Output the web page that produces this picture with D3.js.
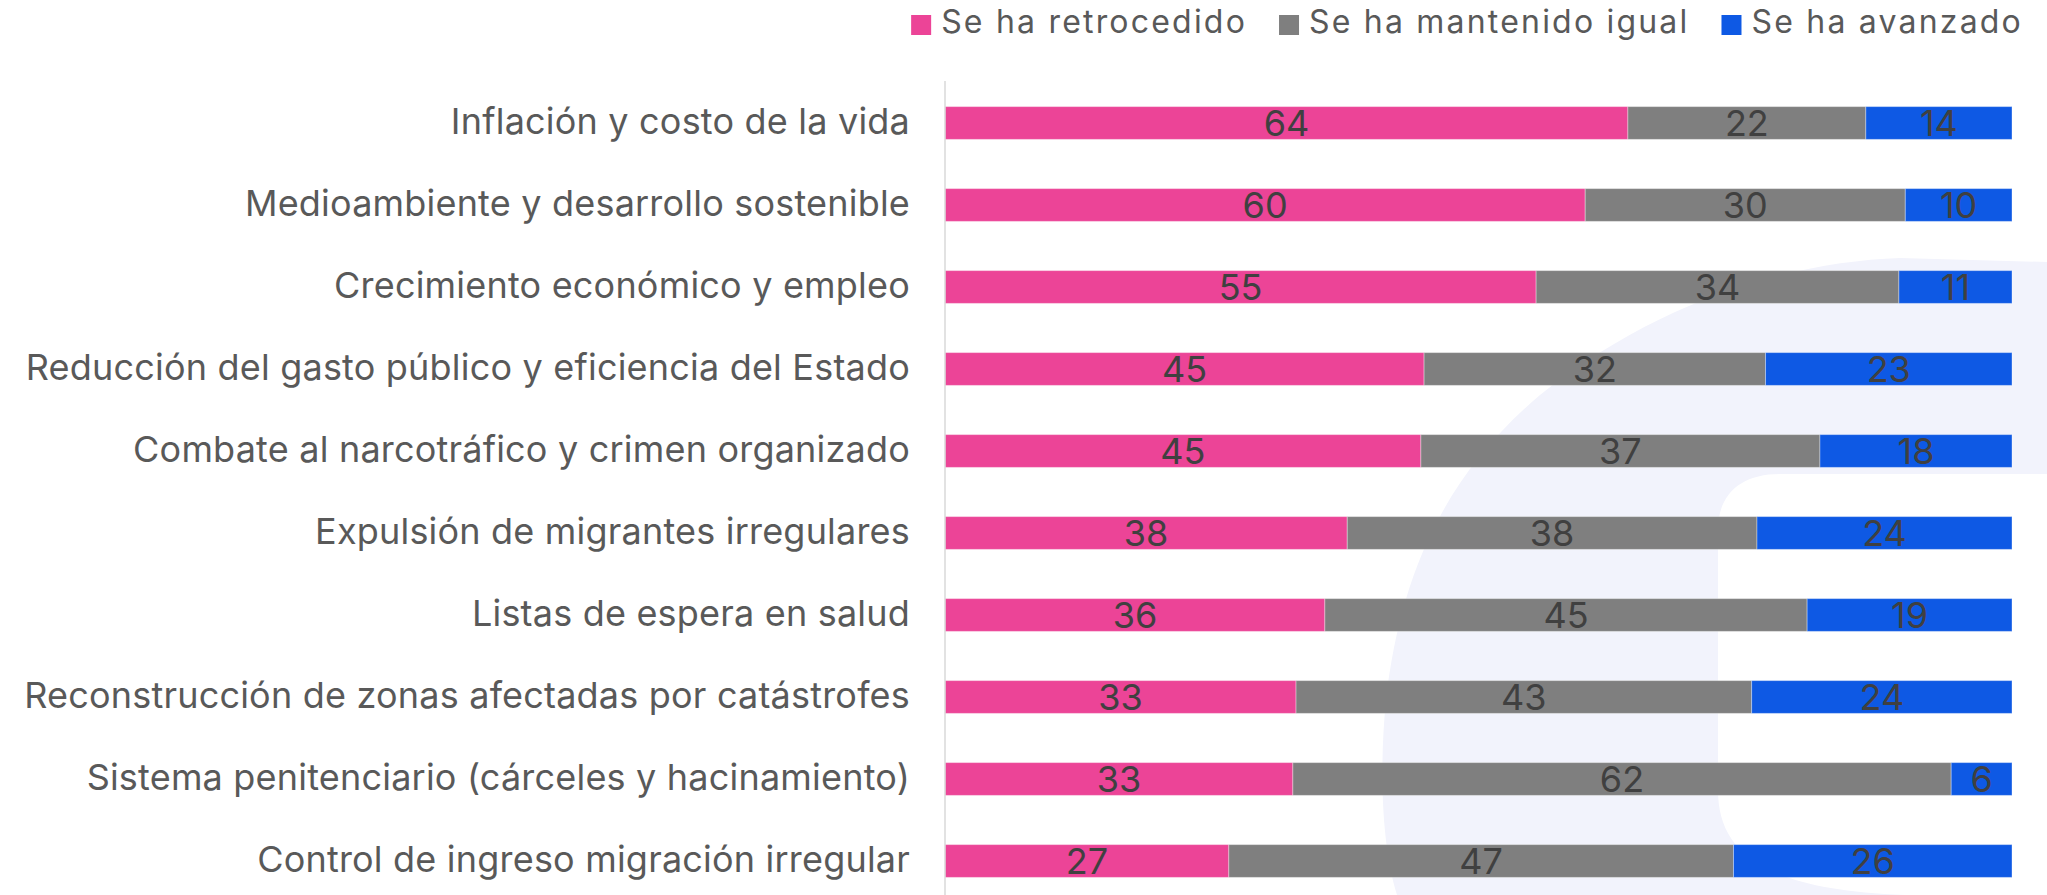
<!DOCTYPE html>
<html>
<head>
<meta charset="utf-8">
<script src="https://cdn.jsdelivr.net/npm/d3@7"></script>
<style>
  body { margin: 0; background: #fff; }
  svg { display: block; }
  text { font-family: Inter, sans-serif; }
</style>
</head>
<body>
<svg id="chart" width="2047" height="895"></svg>
<script>
const categories = [
  'Inflación y costo de la vida',
  'Medioambiente y desarrollo sostenible',
  'Crecimiento económico y empleo',
  'Reducción del gasto público y eficiencia del Estado',
  'Combate al narcotráfico y crimen organizado',
  'Expulsión de migrantes irregulares',
  'Listas de espera en salud',
  'Reconstrucción de zonas afectadas por catástrofes',
  'Sistema penitenciario (cárceles y hacinamiento)',
  'Control de ingreso migración irregular'
]
const retrocedido = [64.0, 60.0, 55.4, 44.9, 44.6, 37.7, 35.6, 32.9, 32.6, 26.6]
const igual = [22.3, 30.0, 34.0, 32.0, 37.4, 38.4, 45.2, 42.7, 61.7, 47.3]
const avanzado = [13.7, 10.0, 10.6, 23.1, 18.0, 23.9, 19.2, 24.4, 5.7, 26.1]
const seriesNames = ['Se ha retrocedido', 'Se ha mantenido igual', 'Se ha avanzado']
const seriesColors = ['#ec4497', '#7f7f7f', '#0e59e4']

const width = 2047
const height = 895
const svg = d3.select('#chart')

// faint logo watermark behind the plot
svg.append('path')
  .attr('d', 'M1397,895 C1380,840 1380,760 1386,700 C1400,580 1440,480 1540,395 C1660,300 1790,262 1900,258 L2047,262 L2047,474 L1780,474 C1740,474 1718,495 1718,530 L1718,790 C1718,850 1760,890 1905,895 Z')
  .attr('fill', '#f2f3fc')

const rows = categories.map((c, i) => ({
  category: c,
  [seriesNames[0]]: retrocedido[i],
  [seriesNames[1]]: igual[i],
  [seriesNames[2]]: avanzado[i],
}))

const x = d3.scaleLinear().domain([0, 100]).range([945, 2012])
const y = d3.scaleBand().domain(categories).range([82, 902]).paddingInner(0.6).paddingOuter(0.3)
const color = d3.scaleOrdinal().domain(seriesNames).range(seriesColors)

const stacked = d3.stack().keys(seriesNames)(rows)

const layers = svg.append('g')
  .selectAll('g')
  .data(stacked)
  .join('g')
  .attr('fill', d => color(d.key))

layers.selectAll('rect')
  .data(d => d)
  .join('rect')
  .attr('x', d => x(d[0]))
  .attr('y', d => y(d.data.category))
  .attr('width', d => x(d[1]) - x(d[0]))
  .attr('height', y.bandwidth())
  .attr('stroke', '#fff')
  .attr('stroke-opacity', 0.35)
  .attr('stroke-width', 1)

const fmt = d3.format('.0f')
layers.selectAll('text')
  .data(d => d)
  .join('text')
  .attr('x', d => (x(d[0]) + x(d[1])) / 2)
  .attr('y', d => y(d.data.category) + y.bandwidth() / 2)
  .attr('dy', '0.36em')
  .attr('text-anchor', 'middle')
  .attr('fill', '#404040')
  .attr('font-size', 36)
  .text(d => fmt(d[1] - d[0]))

const yAxis = svg.append('g')
  .attr('transform', `translate(${x(0)},0)`)
  .call(d3.axisLeft(y).tickSize(0).tickSizeOuter(0).tickPadding(35))

yAxis.select('.domain')
  .attr('stroke', '#d9d9d9')
  .attr('stroke-width', 1.5)
  .attr('d', `M0,81V${height}`)

yAxis.selectAll('.tick text')
  .attr('fill', '#595959')
  .attr('font-size', 36)
  .attr('font-family', 'Inter, sans-serif')
  .attr('letter-spacing', 0.2)
  .attr('dy', '0.3em')

// legend, laid out from the right edge
const legend = svg.append('g')
const legendItems = legend.selectAll('g')
  .data(seriesNames)
  .join('g')

legendItems.append('rect')
  .attr('width', 20)
  .attr('height', 20)
  .attr('y', 15)
  .attr('fill', d => color(d))

legendItems.append('text')
  .attr('x', 30)
  .attr('y', 33)
  .attr('fill', '#595959')
  .attr('font-size', 32)
  .attr('letter-spacing', 2.2)
  .text(d => d)

let cursor = 2023
const itemNodes = legendItems.nodes().reverse()
itemNodes.forEach(node => {
  const w = d3.select(node).select('text').node().getComputedTextLength() + 30
  cursor -= w
  d3.select(node).attr('transform', `translate(${cursor},0)`)
  cursor -= 32
})
</script>
</body>
</html>
